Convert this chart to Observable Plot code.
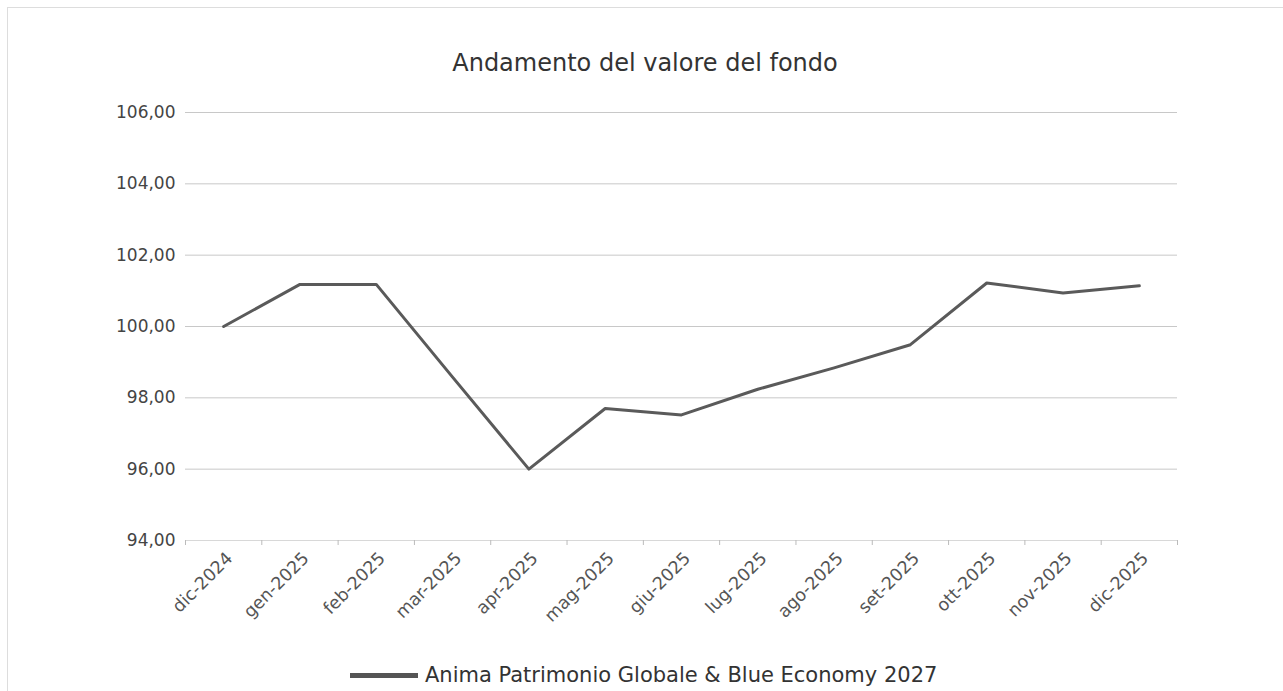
<!DOCTYPE html>
<html>
<head>
<meta charset="utf-8">
<script src="https://cdn.jsdelivr.net/npm/d3@7"></script>
<script src="https://cdn.jsdelivr.net/npm/@observablehq/plot@0.6"></script>
<style>
  html, body { margin: 0; padding: 0; background: #fff; }
  body { width: 1283px; height: 691px; position: relative; overflow: hidden; font-family: "DejaVu Sans", sans-serif; }
  #frame { position: absolute; left: 7px; top: 7px; width: 1300px; height: 700px; border: 1px solid #ddd; box-sizing: border-box; }
  #title { position: absolute; left: 0; width: 1290px; top: 48px; text-align: center; font-size: 24px; color: #333; line-height: 30px; }
  #chart { position: absolute; left: 0; top: 0; }
  #legend { position: absolute; top: 661px; left: 350px; display: flex; align-items: center; font-size: 21px; color: #333; line-height: 28px; }
  #legend .sw { width: 68px; height: 5px; background: #555; margin-right: 7px; }
</style>
</head>
<body>
<div id="frame"></div>
<div id="chart"></div>
<div id="title">Andamento del valore del fondo</div>
<div id="legend"><span class="sw"></span><span>Anima Patrimonio Globale &amp; Blue Economy 2027</span></div>
<script>
const months = ["dic-2024","gen-2025","feb-2025","mar-2025","apr-2025","mag-2025","giu-2025","lug-2025","ago-2025","set-2025","ott-2025","nov-2025","dic-2025"];
const values = [100.00, 101.18, 101.18, 98.58, 96.00, 97.70, 97.52, 98.24, 98.84, 99.49, 101.22, 100.94, 101.14];
const yTicks = [94, 96, 98, 100, 102, 104, 106];
const seriesName = "Anima Patrimonio Globale & Blue Economy 2027";

const rows = months.map((m, i) => ({i, m, v: values[i]}));
const idx = d3.range(months.length);
const bounds = d3.range(months.length + 1).map(k => k - 0.5);
const fmt = d => d.toFixed(2).replace(".", ",");

const chart = Plot.plot({
  width: 1283,
  height: 691,
  marginLeft: 185,
  marginRight: 106,
  marginTop: 112,
  marginBottom: 151,
  style: {fontFamily: "DejaVu Sans", fontSize: "17px", color: "#444", background: "transparent", overflow: "visible"},
  x: {type: "linear", domain: [-0.5, months.length - 0.5]},
  y: {domain: [94, 106]},
  marks: [
    Plot.gridY(yTicks.slice(1), {stroke: "#c8c8c8", strokeOpacity: 1}),
    Plot.ruleY([94], {stroke: "#d8d8d8"}),
    Plot.axisY({ticks: yTicks, tickFormat: fmt, tickSize: 0, tickPadding: 10, fontSize: 17, fill: "#444", label: null}),
    Plot.axisX({ticks: bounds, tickFormat: () => "", tickSize: 5, stroke: "#bbb", label: null}),
    Plot.axisX({ticks: idx, tickFormat: i => months[i], tickSize: 0, tickPadding: 15, dx: 6, tickRotate: -45, fontSize: 17.5, fill: "#555", label: null}),
    Plot.line(rows, {x: "i", y: "v", stroke: "#5a5a5a", strokeWidth: 3, strokeLinejoin: "round"})
  ]
});
chart.setAttribute("aria-label", seriesName);
document.getElementById("chart").appendChild(chart);
</script>
</body>
</html>
